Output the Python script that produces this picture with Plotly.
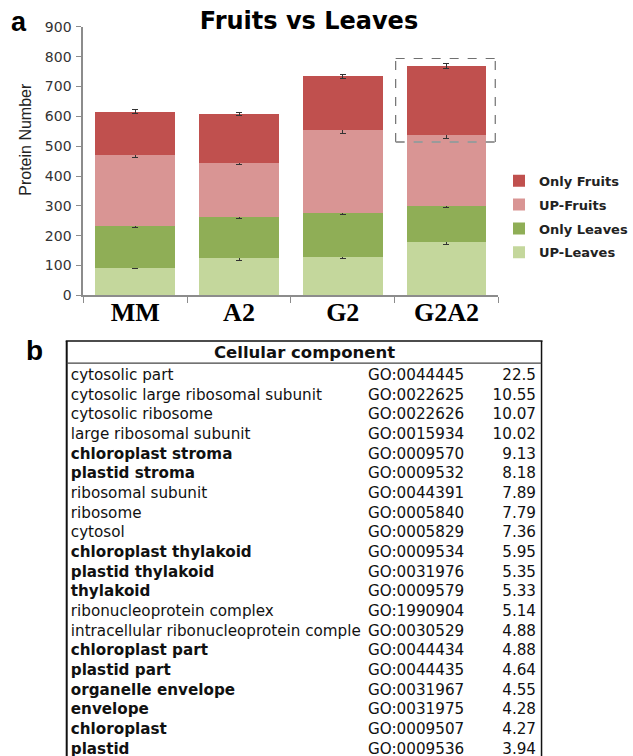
import plotly.graph_objects as go

# the figure is a little taller than the 756px window so the table runs off the bottom
# edge like the reference; everything is positioned in window pixels
W, H = 633, 780


def px(x):
    return x / W


def py(y):
    return 1 - y / H


# ---------------- data: panel a ----------------
genotypes = ["MM", "A2", "G2", "G2A2"]
series_names = ["UP-Leaves", "Only Leaves", "UP-Fruits", "Only Fruits"]
up_leaves = [93, 124, 128, 178]
only_leaves = [139, 138, 148, 123]
up_fruits = [239, 183, 278, 236]
only_fruits = [145, 163, 180, 232]
err_up_leaves = [4, 6, 6, 7]
err_only_leaves = [5, 6, 6, 5]
err_up_fruits = [9, 7, 11, 10]
err_only_fruits = [6, 6, 7, 8]
series_colors = ["#C4D79C", "#8FAE56", "#D99594", "#C0504E"]
legend_ranks = [4, 3, 2, 1]
y_ticks = [0, 100, 200, 300, 400, 500, 600, 700, 800, 900]
y_title = "Protein Number"
chart_title = "Fruits vs Leaves"

# ---------------- data: panel b ----------------
table_title = "Cellular component"
go_names = ["cytosolic part", "cytosolic large ribosomal subunit", "cytosolic ribosome",
            "large ribosomal subunit", "chloroplast stroma", "plastid stroma",
            "ribosomal subunit", "ribosome", "cytosol", "chloroplast thylakoid",
            "plastid thylakoid", "thylakoid", "ribonucleoprotein complex",
            "intracellular ribonucleoprotein comple", "chloroplast part", "plastid part",
            "organelle envelope", "envelope", "chloroplast", "plastid"]
go_ids = ["GO:0044445", "GO:0022625", "GO:0022626", "GO:0015934", "GO:0009570",
          "GO:0009532", "GO:0044391", "GO:0005840", "GO:0005829", "GO:0009534",
          "GO:0031976", "GO:0009579", "GO:1990904", "GO:0030529", "GO:0044434",
          "GO:0044435", "GO:0031967", "GO:0031975", "GO:0009507", "GO:0009536"]
go_values = [22.5, 10.55, 10.07, 10.02, 9.13, 8.18, 7.89, 7.79, 7.36, 5.95,
             5.35, 5.33, 5.14, 4.88, 4.88, 4.64, 4.55, 4.28, 4.27, 3.94]
go_bold = [0, 0, 0, 0, 1, 1, 0, 0, 0, 1, 1, 1, 0, 0, 1, 1, 1, 1, 1, 1]

fig = go.Figure()

series = [up_leaves, only_leaves, up_fruits, only_fruits]
errors = [err_up_leaves, err_only_leaves, err_up_fruits, err_only_fruits]
for name, vals, errs, col, rk in zip(series_names, series, errors, series_colors, legend_ranks):
    fig.add_trace(go.Bar(
        x=genotypes, y=vals, name=name, legendgroup=name, legendrank=rk,
        marker=dict(color=col, line=dict(width=0)),
        error_y=dict(type="data", array=errs, visible=True,
                     color="#333333", thickness=1, width=3),
        xaxis="x", yaxis="y",
    ))

# one blank trailing row keeps the last real row from being clipped by the table
pad = [""]
vals_fmt = [str(v) for v in go_values] + pad
names_regular = ["" if b else n for n, b in zip(go_names, go_bold)] + pad
names_bold = [n if b else "" for n, b in zip(go_names, go_bold)] + pad
ids_col = go_ids + pad

TABLE_FONT = 15.2
ROW_H = 19.68
HEAD_H = 19.5
no_line = dict(width=0, color="white")
clear = dict(color="rgba(0,0,0,0)")
tfont = dict(family="DejaVu Sans", size=TABLE_FONT, color="#111111")

# names column (regular rows), window px 64-400
fig.add_trace(go.Table(
    domain=dict(x=[px(64), px(400)], y=[0, py(340)]),
    header=dict(values=[""], height=HEAD_H, fill=clear, line=no_line),
    cells=dict(values=[names_regular], height=ROW_H, align="left", fill=clear,
               line=no_line, font=tfont),
))
# names column (bold rows), same grid
fig.add_trace(go.Table(
    domain=dict(x=[px(64), px(400)], y=[0, py(340)]),
    header=dict(values=[""], height=HEAD_H, fill=clear, line=no_line),
    cells=dict(values=[names_bold], height=ROW_H, align="left", fill=clear,
               line=no_line, font=dict(tfont, weight="bold")),
))
# GO id and fold columns, window px 367-555
fig.add_trace(go.Table(
    domain=dict(x=[px(367), px(555)], y=[0, py(340)]),
    columnwidth=[113, 75],
    header=dict(values=["", ""], height=HEAD_H, fill=clear, line=no_line),
    cells=dict(values=[ids_col, vals_fmt], height=ROW_H, align=["left", "right"],
               fill=clear, line=no_line, font=tfont),
))

# dashed highlight box around the G2A2 "Only Fruits" segment
g_i = genotypes.index("G2A2")
seg_bottom = up_leaves[g_i] + only_leaves[g_i] + up_fruits[g_i]
seg_top = seg_bottom + only_fruits[g_i]
bx0, bx1 = g_i - 0.49, g_i + 0.47
by0, by1 = seg_bottom - 23, seg_top + 25

shapes = [
    dict(type="line", xref="x", yref="y", x0=bx0, x1=bx1, y0=by1, y1=by1,
         line=dict(color="#707070", width=1.2, dash="dash")),
    dict(type="line", xref="x", yref="y", x0=bx0, x1=bx0, y0=by0, y1=by1,
         line=dict(color="#707070", width=1.2, dash="dash")),
    dict(type="line", xref="x", yref="y", x0=bx1, x1=bx1, y0=by0, y1=by1,
         line=dict(color="#707070", width=1.2, dash="dash")),
    dict(type="line", xref="x", yref="y", x0=bx0, x1=bx1, y0=by0, y1=by0,
         line=dict(color="#9a9a9a", width=2, dash="dash")),
    # table borders
    dict(type="line", xref="paper", yref="paper", x0=px(68), x1=px(68),
         y0=0, y1=py(340), line=dict(color="#111111", width=2)),
    dict(type="line", xref="paper", yref="paper", x0=px(552), x1=px(552),
         y0=0, y1=py(340), line=dict(color="#111111", width=1.5)),
    dict(type="line", xref="paper", yref="paper", x0=px(67), x1=px(553),
         y0=py(340), y1=py(340), line=dict(color="#111111", width=1.5)),
    dict(type="line", xref="paper", yref="paper", x0=px(68), x1=px(552),
         y0=py(362.5), y1=py(362.5), line=dict(color="#444444", width=1.2)),
]

annotations = [
    dict(text="<b>a</b>", x=px(19), y=py(14), xref="paper", yref="paper",
         showarrow=False, font=dict(family="Liberation Sans", size=27, color="black"),
         xanchor="center", yanchor="middle"),
    dict(text="<b>b</b>", x=px(35), y=py(350), xref="paper", yref="paper",
         showarrow=False, font=dict(family="Liberation Sans", size=28, color="black"),
         xanchor="center", yanchor="middle"),
    dict(text=f"<b>{table_title}</b>", x=px(310), y=py(351.5), xref="paper", yref="paper",
         showarrow=False, font=dict(family="DejaVu Sans", size=16.5, color="#111111"),
         xanchor="center", yanchor="middle"),
    dict(text=y_title, x=px(26), y=py(134), xref="paper", yref="paper",
         showarrow=False, textangle=-90,
         font=dict(family="Liberation Sans", size=16, color="#222222"),
         xanchor="center", yanchor="middle"),
]

fig.update_layout(
    width=W, height=H,
    margin=dict(l=0, r=0, t=0, b=0),
    paper_bgcolor="white", plot_bgcolor="white",
    barmode="stack", bargap=0.23,
    title=dict(text=f"<b>{chart_title}</b>", x=px(309), xanchor="center",
               y=py(21), yanchor="middle", yref="container",
               font=dict(family="DejaVu Sans", size=24, color="black")),
    xaxis=dict(domain=[px(85), px(508)], anchor="y", type="category",
               range=[-0.5, 3.5], showline=True, linecolor="#8c8c8c", linewidth=2,
               ticks="outside", tickson="boundaries", ticklen=6, tickcolor="#8c8c8c",
               ticklabelstandoff=-7,
               tickfont=dict(family="Liberation Serif", size=26, color="black", weight="bold"),
               showgrid=False, zeroline=False, fixedrange=True),
    yaxis=dict(domain=[py(293.3), py(19.3)], anchor="x",
               range=[0, 900], tickvals=y_ticks, showline=True, linecolor="#8c8c8c",
               linewidth=2, ticks="outside", ticklen=5, tickcolor="#8c8c8c",
               ticklabelstandoff=2,
               tickfont=dict(family="DejaVu Sans", size=14, color="#333333"),
               showgrid=False, zeroline=False, fixedrange=True),
    legend=dict(x=px(509), xanchor="left", y=py(161), yanchor="top",
                traceorder="grouped", tracegroupgap=4,
                font=dict(family="DejaVu Sans", size=13, color="#222222", weight="bold"),
                bgcolor="rgba(0,0,0,0)"),
    shapes=shapes,
    annotations=annotations,
)

# remove the browser's default 8px page margin so figure pixels equal window pixels
fig.write_html("out.html", config={"displayModeBar": False}, post_script=(
    "document.body.style.margin='0';"
    "document.documentElement.style.overflow='hidden';"
))
